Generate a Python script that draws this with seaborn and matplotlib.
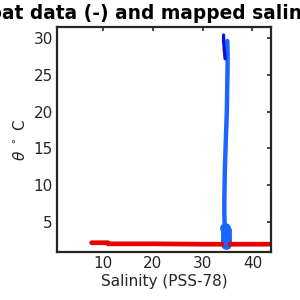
import numpy as np
import pandas as pd
import matplotlib
matplotlib.use("Agg")
import matplotlib.pyplot as plt
import seaborn as sns

# float profiles (lines)
float_red_sal = [7.7, 11.0, 11.0, 20.0, 30.0, 34.0, 46.0]
float_red_theta = [2.2, 2.2, 2.05, 2.05, 2.0, 2.0, 2.0]
float_blue_sal = [34.2, 34.2, 34.3, 34.4, 34.5]
float_blue_theta = [30.4, 29.6, 28.8, 28.0, 27.2]

# mapped salinity (circles)
map_theta = [29.6, 28.0, 26.0, 24.3, 22.0, 20.0, 18.0, 16.2, 14.0, 12.0, 10.0,
             8.0, 6.0, 5.0, 4.2, 3.8, 3.4, 3.0, 2.7, 2.4, 2.2, 2.0, 1.9]
map_sal = [34.95, 35.0, 35.0, 34.95, 34.9, 34.85, 34.75, 34.65, 34.55, 34.45, 34.4,
           34.35, 34.35, 34.4, 34.45, 34.55, 34.65, 34.7, 34.75, 34.75, 34.7, 34.7, 34.7]
deep_theta = [4.2, 3.9, 3.6, 3.3, 3.0, 2.7, 2.4, 2.2, 2.0]
deep_sal = [34.5, 34.6, 34.65, 34.7, 34.7, 34.75, 34.7, 34.65, 34.6]

sns.set_style("white")
plt.rcParams["font.family"] = ["DejaVu Sans"]
ink = "#262626"

fig = plt.figure(figsize=(3, 3), dpi=100)
ax = fig.add_axes([0.19, 0.16, 0.713, 0.75])

red = pd.DataFrame({"S": float_red_sal, "T": float_red_theta})
sns.lineplot(data=red, x="S", y="T", sort=False, estimator=None,
             color="#e60000", lw=3.4, ax=ax)

mp = pd.DataFrame({"S": map_sal, "T": map_theta})
sns.lineplot(data=mp, x="S", y="T", sort=False, estimator=None,
             color="#1a66ff", lw=3.2, ax=ax)
dp = pd.DataFrame({"S": deep_sal, "T": deep_theta})
sns.scatterplot(data=dp, x="S", y="T", color="#1a66ff", s=45, edgecolor="#1a66ff",
                linewidth=1, ax=ax)

fb = pd.DataFrame({"S": float_blue_sal, "T": float_blue_theta})
sns.lineplot(data=fb, x="S", y="T", sort=False, estimator=None,
             color="#0a14d0", lw=2.4, ax=ax)

ax.set_xlim(0.75, 43.7)
ax.set_ylim(0.94, 31.5)
ax.set_xticks([10, 20, 30, 40])
ax.set_yticks([5, 10, 15, 20, 25, 30])
for s in ax.spines.values():
    s.set_visible(True)
    s.set_color(ink)
    s.set_linewidth(1.6)
ax.tick_params(direction="in", length=3, width=1.2, color=ink, labelcolor=ink,
               labelsize=11, top=True, right=True, pad=3)
ax.set_xlabel("Salinity (PSS-78)", fontsize=11, color=ink, labelpad=2)
ax.set_ylabel(r"$\theta$ $^\circ$ C", fontsize=11, color=ink, labelpad=4)
ax.set_title("Float data (-) and mapped salinity (o)", fontsize=13.4, x=0.52,
             fontweight="bold", color="black", pad=6)

fig.savefig("out.png", dpi=100)
